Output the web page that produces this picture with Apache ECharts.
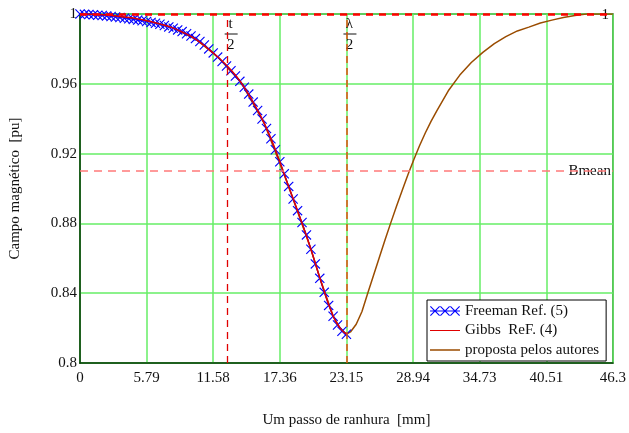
<!DOCTYPE html>
<html lang="pt">
<head>
<meta charset="UTF-8">
<title>Campo magnético</title>
<style>
  html, body { margin: 0; padding: 0; background: #fff; }
  #main { width: 629px; height: 433px; }
</style>
<script src="https://cdn.jsdelivr.net/npm/echarts@6/dist/echarts.min.js"></script>
</head>
<body>
<div id="main"></div>
<script>
// tick labels
var xTickLabels = ['0', '5.79', '11.58', '17.36', '23.15', '28.94', '34.73', '40.51', '46.3'];
var yTickLabels = ['0.8', '0.84', '0.88', '0.92', '0.96', '1'];

// Freeman Ref. (5)  - marcadores
var freemanX = [0.000, 0.386, 0.772, 1.157, 1.543, 1.929, 2.315, 2.701, 3.086, 3.472,
  3.858, 4.244, 4.630, 5.015, 5.401, 5.787, 6.173, 6.559, 6.944, 7.330,
  7.716, 8.102, 8.488, 8.873, 9.259, 9.645, 10.031, 10.417, 10.802, 11.188,
  11.574, 11.960, 12.346, 12.731, 13.117, 13.503, 13.889, 14.275, 14.660, 15.046,
  15.432, 15.818, 16.204, 16.589, 16.975, 17.361, 17.747, 18.133, 18.518, 18.904,
  19.290, 19.676, 20.062, 20.447, 20.833, 21.219, 21.605, 21.991, 22.376, 22.762, 23.148];
var freemanY = [1.0000, 0.9998, 0.9997, 0.9995, 0.9993, 0.9991, 0.9989, 0.9986, 0.9983, 0.9980,
  0.9976, 0.9973, 0.9969, 0.9965, 0.9961, 0.9957, 0.9952, 0.9947, 0.9941, 0.9934,
  0.9926, 0.9918, 0.9909, 0.9899, 0.9887, 0.9874, 0.9859, 0.9842, 0.9822, 0.9800,
  0.9777, 0.9753, 0.9728, 0.9702, 0.9675, 0.9645, 0.9614, 0.9580, 0.9541, 0.9495,
  0.9447, 0.9398, 0.9344, 0.9285, 0.9222, 0.9153, 0.9084, 0.9012, 0.8940, 0.8873,
  0.8805, 0.8734, 0.8652, 0.8568, 0.8485, 0.8405, 0.8330, 0.8268, 0.8218, 0.8182, 0.8165];

// Gibbs ReF. (4)
var gibbsX = [0, 1, 2, 3, 4, 5, 6, 7, 8, 9, 10, 11, 12, 13, 14, 15, 16, 17, 18, 19, 20, 21, 22, 22.6, 23.15];
var gibbsY = [1.0000, 0.9999, 0.9996, 0.9990, 0.9982, 0.9972, 0.9958, 0.9942, 0.9922, 0.9893,
  0.9858, 0.9808, 0.9752, 0.9688, 0.9607, 0.9500, 0.9375, 0.9218, 0.9035, 0.8855,
  0.8665, 0.8455, 0.8268, 0.8200, 0.8165];

// proposta pelos autores
var propostaX = [0, 2, 4, 6, 8, 10, 12, 14, 16, 18, 20, 21, 22, 22.6, 23.15,
  23.5, 24, 24.5, 25, 25.5, 26, 26.5, 27, 27.5, 28, 28.5, 29, 29.5, 30, 30.5, 31,
  32, 33, 34, 35, 36, 37, 38, 39, 40, 41, 42, 43, 44, 46.3];
var propostaY = [1.0000, 0.9996, 0.9982, 0.9958, 0.9922, 0.9858, 0.9752, 0.9607, 0.9375, 0.9035, 0.8665, 0.8455, 0.8268, 0.8200, 0.8165,
  0.8178, 0.8222, 0.8295, 0.8400, 0.8502, 0.8603, 0.8705, 0.8803, 0.8898, 0.8990, 0.9080, 0.9165, 0.9245, 0.9318, 0.9385, 0.9445,
  0.9560, 0.9650, 0.9722, 0.9780, 0.9830, 0.9870, 0.9903, 0.9925, 0.9948, 0.9965, 0.9980, 0.9992, 1.0000, 1.0000];

var tHalf = 12.83;
var lambdaHalf = 23.15;
var bmean = 0.9096;
var topLevel = 1;

function pairs(xs, ys) {
  var out = [];
  for (var i = 0; i < xs.length; i++) out.push([xs[i], ys[i]]);
  return out;
}

var serif = 'Liberation Serif';
var fs = 15;
var crossPath = 'path://M0,0.8L0.8,0L5,4.2L9.2,0L10,0.8L5.8,5L10,9.2L9.2,10L5,5.8L0.8,10L0,9.2L4.2,5Z';
// legend icons, drawn in a 30 x 10 box
function crossAt(o) {
  return 'M' + (o) + ',0.8L' + (o + 0.8) + ',0L' + (o + 5) + ',4.2L' + (o + 9.2) + ',0L' + (o + 10) + ',0.8L' +
    (o + 5.8) + ',5L' + (o + 10) + ',9.2L' + (o + 9.2) + ',10L' + (o + 5) + ',5.8L' + (o + 0.8) + ',10L' +
    (o) + ',9.2L' + (o + 4.2) + ',5Z';
}
var freemanIcon = 'path://M0,4.5L30,4.5L30,5.5L0,5.5Z' + crossAt(0) + crossAt(10) + crossAt(20);
// tiny corner points keep the box 10 high so the bar stays thin
function lineIcon(h) {
  return 'path://M0,0L0.01,0L0,0.01Z M0,' + (5 - h / 2) + 'L30,' + (5 - h / 2) + 'L30,' + (5 + h / 2) + 'L0,' + (5 + h / 2) + 'Z M0,10L0.01,10L0,9.99Z';
}

var myChart = echarts.init(document.getElementById('main'));
var option = {
  animation: false,
  textStyle: { fontFamily: serif },
  grid: {
    left: 80, right: 15, top: 14, bottom: 65,
    show: true, borderColor: '#0b3d0b', borderWidth: 1.5, backgroundColor: '#fff'
  },
  legend: {
    left: 427, top: 300,
    orient: 'vertical',
    itemGap: 4.5,
    itemWidth: 30, itemHeight: 10,
    padding: [3.5, 7, 3.5, 3],
    backgroundColor: '#fff',
    borderColor: '#000', borderWidth: 1, borderRadius: 0,
    textStyle: { fontFamily: serif, fontSize: fs, color: '#111' },
    data: [
      { name: 'Freeman Ref. (5)', icon: freemanIcon },
      { name: 'Gibbs  ReF. (4)', icon: lineIcon(1.1) },
      { name: 'proposta pelos autores', icon: lineIcon(1.6) }
    ]
  },
  xAxis: {
    type: 'value', min: 0, max: 46.3, interval: 5.7875,
    name: 'Um passo de ranhura  [mm]', nameLocation: 'middle', nameGap: 50,
    nameTextStyle: { fontFamily: serif, fontSize: fs, color: '#111' },
    axisLine: { show: true, lineStyle: { color: '#0b3d0b', width: 1.5 } },
    axisTick: { show: false },
    axisLabel: {
      fontFamily: serif, fontSize: fs, color: '#111', margin: 8,
      formatter: function (v) { return xTickLabels[Math.round(v / 5.7875)]; }
    },
    splitLine: { show: true, lineStyle: { color: '#66ee66', width: 1.5 } }
  },
  yAxis: {
    type: 'value', min: 0.8, max: 1, interval: 0.04,
    name: 'Campo magnético  [pu]', nameLocation: 'middle', nameGap: 57,
    nameTextStyle: { fontFamily: serif, fontSize: fs, color: '#111' },
    axisLine: { show: true, lineStyle: { color: '#0b3d0b', width: 1.5 } },
    axisTick: { show: false },
    axisLabel: {
      fontFamily: serif, fontSize: fs, color: '#111', margin: 3,
      formatter: function (v) { return yTickLabels[Math.round((v - 0.8) / 0.04)]; }
    },
    splitLine: { show: true, lineStyle: { color: '#66ee66', width: 1.5 } }
  },
  series: [
    {
      name: 'proposta pelos autores', type: 'line',
      data: pairs(propostaX, propostaY),
      showSymbol: false, symbol: 'none',
      lineStyle: { color: '#9a4c00', width: 1.5 },
      itemStyle: { color: '#9a4c00' },
      z: 2,
      markLine: {
        silent: true, symbol: 'none', animation: false,
        label: { show: false },
        emphasis: { disabled: true },
        data: [
          { xAxis: tHalf, lineStyle: { color: '#e00000', type: [7, 5], width: 1.3, opacity: 1 } },
          { xAxis: lambdaHalf, lineStyle: { color: '#e05010', type: [7, 5], width: 1.5 } },
          { yAxis: bmean, lineStyle: { color: '#ff7a7a', type: [8, 6], width: 1.5 } },
          { yAxis: topLevel, lineStyle: { color: '#ff0000', type: [7, 6], width: 2.5 } }
        ]
      }
    },
    {
      name: 'Freeman Ref. (5)', type: 'line',
      data: pairs(freemanX, freemanY),
      symbol: crossPath, symbolSize: 10, showSymbol: true,
      lineStyle: { color: '#0000ff', width: 1 },
      itemStyle: { color: '#0000ff' },
      z: 3
    },
    {
      name: 'Gibbs  ReF. (4)', type: 'line',
      data: pairs(gibbsX, gibbsY),
      smooth: true, symbol: 'none', showSymbol: false,
      lineStyle: { color: '#e00000', width: 1.5 },
      itemStyle: { color: '#e00000' },
      z: 4
    }
  ]
};
myChart.setOption(option);

// fraction labels t/2 and λ/2, and the "1" / "Bmean" labels
function fraction(top, xVal) {
  var px = myChart.convertToPixel({ gridIndex: 0 }, [xVal, 1])[0];
  var cx = px + 3;
  var font = fs + 'px "Liberation Serif"';
  return [
    { type: 'text', x: cx, y: 17, style: { text: top, font: font, fill: '#111', align: 'center' } },
    { type: 'line', shape: { x1: cx - 6, y1: 34, x2: cx + 7, y2: 34 }, style: { stroke: '#111', lineWidth: 1 } },
    { type: 'text', x: cx, y: 38, style: { text: '2', font: font, fill: '#111', align: 'center' } }
  ];
}
var bPix = myChart.convertToPixel({ gridIndex: 0 }, [46.3, bmean]);
var oneX = myChart.convertToPixel({ gridIndex: 0 }, [46.3, 1])[0];
myChart.setOption({
  graphic: fraction('t', tHalf).concat(fraction('λ', lambdaHalf)).concat([
    { type: 'text', x: oneX - 4, y: 8, style: { text: '1', font: fs + 'px "Liberation Serif"', fill: '#111', align: 'right' } },
    { type: 'text', x: bPix[0] - 2, y: bPix[1] - 8, style: { text: 'Bmean', font: fs + 'px "Liberation Serif"', fill: '#111', align: 'right' } }
  ])
});
</script>
</body>
</html>
